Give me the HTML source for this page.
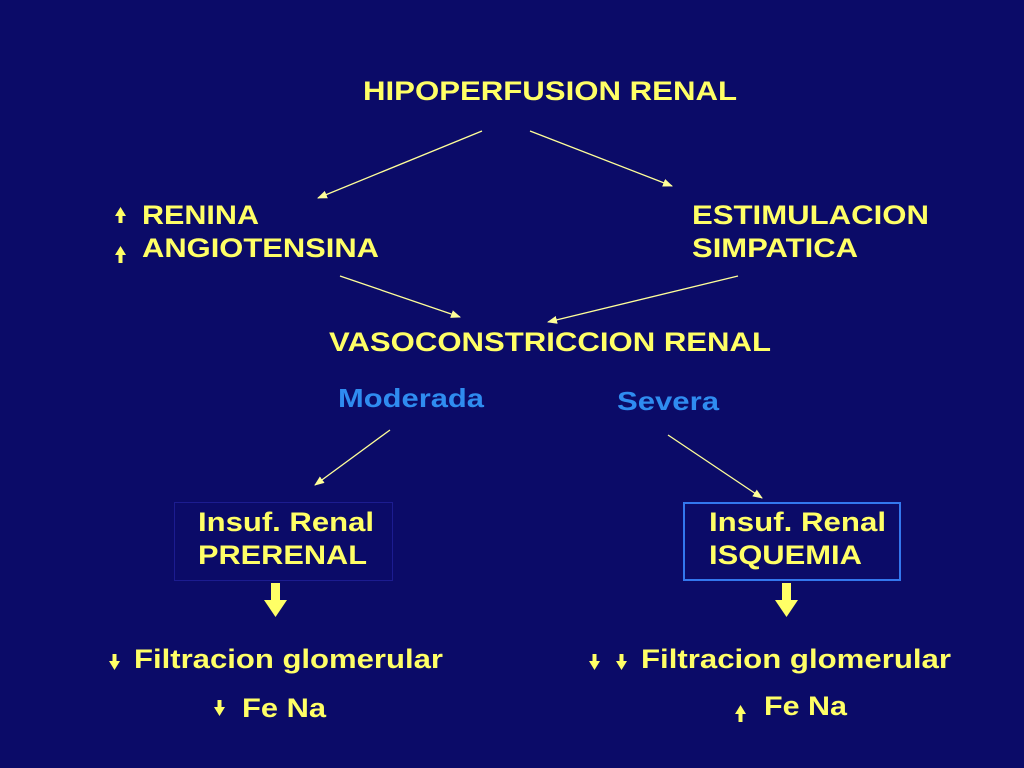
<!DOCTYPE html>
<html><head><meta charset="utf-8"><style>
html,body{margin:0;padding:0;background:#0b0b68;}
svg{display:block}
text{font-family:"Liberation Sans",Arial,sans-serif;font-weight:bold;font-size:27px;fill:#ffff66}
.b{fill:#2f8cf0;font-size:26px}
</style></head><body>
<svg width="1024" height="768" viewBox="0 0 1024 768">
<rect width="1024" height="768" fill="#0b0b68"/>
<defs><marker id="a" markerWidth="10" markerHeight="8" refX="9" refY="4" orient="auto" markerUnits="userSpaceOnUse"><path d="M0,0 L10,4 L0,8 Z" fill="#ffff99"/></marker></defs>
<g stroke="#ffff99" stroke-width="1.3" marker-end="url(#a)">
<line x1="482" y1="131" x2="318" y2="198"/>
<line x1="530" y1="131" x2="672" y2="186"/>
<line x1="340" y1="276" x2="460" y2="317"/>
<line x1="738" y1="276" x2="548" y2="322"/>
<line x1="390" y1="430" x2="315" y2="485"/>
<line x1="668" y1="435" x2="762" y2="498"/>
</g>
<g lengthAdjust="spacingAndGlyphs">
<text x="363" y="100" textLength="374" lengthAdjust="spacingAndGlyphs">HIPOPERFUSION RENAL</text>
<text x="142" y="224" textLength="117" lengthAdjust="spacingAndGlyphs">RENINA</text>
<text x="142" y="257" textLength="237" lengthAdjust="spacingAndGlyphs">ANGIOTENSINA</text>
<text x="692" y="224" textLength="237" lengthAdjust="spacingAndGlyphs">ESTIMULACION</text>
<text x="692" y="257" textLength="166" lengthAdjust="spacingAndGlyphs">SIMPATICA</text>
<text x="329" y="351" textLength="442" lengthAdjust="spacingAndGlyphs">VASOCONSTRICCION RENAL</text>
<text class="b" x="338" y="407" textLength="146" lengthAdjust="spacingAndGlyphs">Moderada</text>
<text class="b" x="617" y="410" textLength="102" lengthAdjust="spacingAndGlyphs">Severa</text>
<text x="198" y="531" textLength="176" lengthAdjust="spacingAndGlyphs">Insuf. Renal</text>
<text x="198" y="564" textLength="169" lengthAdjust="spacingAndGlyphs">PRERENAL</text>
<text x="709" y="531" textLength="177" lengthAdjust="spacingAndGlyphs">Insuf. Renal</text>
<text x="709" y="564" textLength="153" lengthAdjust="spacingAndGlyphs">ISQUEMIA</text>
<text x="134" y="668" textLength="309" lengthAdjust="spacingAndGlyphs">Filtracion glomerular</text>
<text x="641" y="668" textLength="310" lengthAdjust="spacingAndGlyphs">Filtracion glomerular</text>
<text x="242" y="717" textLength="84" lengthAdjust="spacingAndGlyphs">Fe Na</text>
<text x="764" y="715" textLength="83" lengthAdjust="spacingAndGlyphs">Fe Na</text>
</g>
<rect x="174.5" y="502.5" width="218" height="78" fill="none" stroke="#1c1c90" stroke-width="1"/>
<rect x="684" y="503" width="216" height="77" fill="none" stroke="#3377ee" stroke-width="2"/>
<g fill="#ffff66">
<path d="M271,583 h9 v17 h7 l-11.5,17 l-11.5,-17 h7 z"/>
<path d="M782,583 h9 v17 h7 l-11.5,17 l-11.5,-17 h7 z"/>
<path d="M118.5,223 h4 v-7 h3.5 l-5.5,-9 l-5.5,9 h3.5 z"/>
<path d="M118.5,263 h4 v-8 h3.5 l-5.5,-9 l-5.5,9 h3.5 z"/>
<path d="M738.5,722 h4 v-8 h3.5 l-5.5,-9 l-5.5,9 h3.5 z"/>
<path d="M112.5,654 h4 v7 h3.5 l-5.5,9 l-5.5,-9 h3.5 z"/>
<path d="M217.5,700 h4 v7 h3.5 l-5.5,9 l-5.5,-9 h3.5 z"/>
<path d="M592.5,654 h4 v7 h3.5 l-5.5,9 l-5.5,-9 h3.5 z"/>
<path d="M619.5,654 h4 v7 h3.5 l-5.5,9 l-5.5,-9 h3.5 z"/>
</g>
</svg>
</body></html>
